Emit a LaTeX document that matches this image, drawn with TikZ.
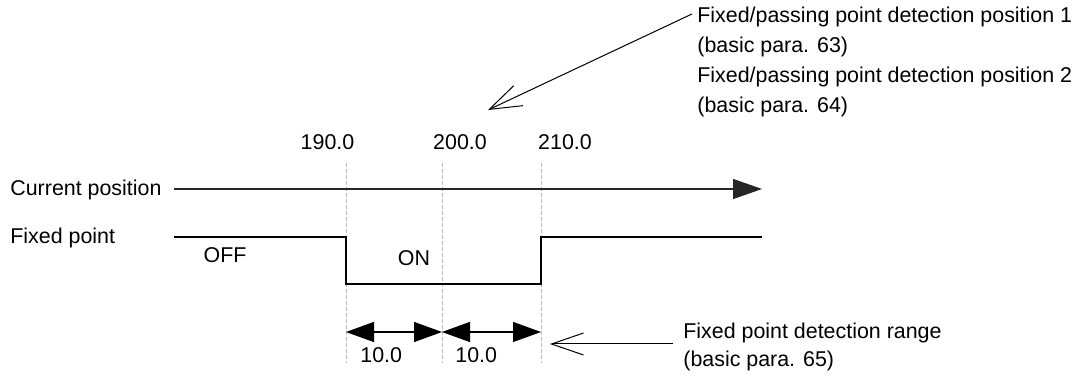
\documentclass[tikz,border=0pt]{standalone}
\usepackage{fontspec}
\setmainfont{Liberation Sans}
\usetikzlibrary{arrows.meta,positioning}
\tikzset{
  lbl/.style={font=\fontsize{10.7}{15}\selectfont, inner sep=0pt, anchor=base west},
  guide/.style={dash pattern=on 2pt off 1pt, gray!55, line width=0.3pt},
  signal/.style={line width=0.65pt},
  axis/.style={-{Triangle[length=14.5pt,width=10pt]}, line width=0.6pt, black!85},
  span/.style={{Triangle[length=14pt,width=10pt]}-{Triangle[length=14pt,width=10pt]}, line width=0.6pt},
  pointer/.style={-{Straight Barb[length=16pt,width=11pt]}, line width=0.5pt},
}

\begin{document}
\begin{tikzpicture}[x=0.5pt,y=-0.5pt]
  \useasboundingbox (0,0) rectangle (1084,378);
  \node[lbl] (pos1) at (697,22.5) {Fixed/passing point detection position 1};
  \node[lbl] (para63) at (697,52.5) {(basic para. 63)};
  \node[lbl] (pos2) at (697,82.5) {Fixed/passing point detection position 2};
  \node[lbl] (para64) at (697,112.5) {(basic para. 64)};
  \node[lbl, anchor=base] (v190) at (327.5,149.5) {190.0};
  \node[lbl, anchor=base] (v200) at (460,149.5) {200.0};
  \node[lbl, anchor=base] (v210) at (565,149.5) {210.0};
  \node[lbl] (cur) at (10,195.5) {Current position};
  \node[lbl] (fix) at (10,243.5) {Fixed point};
  \node[lbl, anchor=base] (off) at (225,262.5) {OFF};
  \node[lbl, anchor=base] (on) at (414,265.5) {ON};
  \node[lbl] (w1) at (360,362.5) {10.0};
  \node[lbl] (w2) at (455,362.5) {10.0};
  \node[lbl] (range) at (683,339) {Fixed point detection range};
  \node[lbl] (para65) at (683,367) {(basic para. 65)};

  \foreach \x/\n in {346/a,442/b,541/c} {
    \coordinate (top\n) at (\x,163);
    \coordinate (bot\n) at (\x,363);
    \coordinate (dim\n) at (\x,332);
    \draw[guide] (top\n) -- (bot\n);
  }
  \coordinate (curL) at (174,189);
  \coordinate (curR) at (762,189);
  \coordinate (fixL) at (174,237);
  \coordinate (fixR) at (762,237);
  \coordinate (posfrom) at (692,14);
  \coordinate (postip) at (488,110);
  \coordinate (rangefrom) at (673,344);
  \coordinate (rangetip) at (550,344);

  \draw[axis] (curL) -- (curR);
  \draw[signal] (fixL) -| (346,284) -| (541,237) -- (fixR);
  \draw[span] (dima) -- (dimb);
  \draw[span] (dimb) -- (dimc);
  \draw[pointer] (posfrom) -- (postip);
  \draw[pointer] (rangefrom) -- (rangetip);
\end{tikzpicture}
\end{document}
